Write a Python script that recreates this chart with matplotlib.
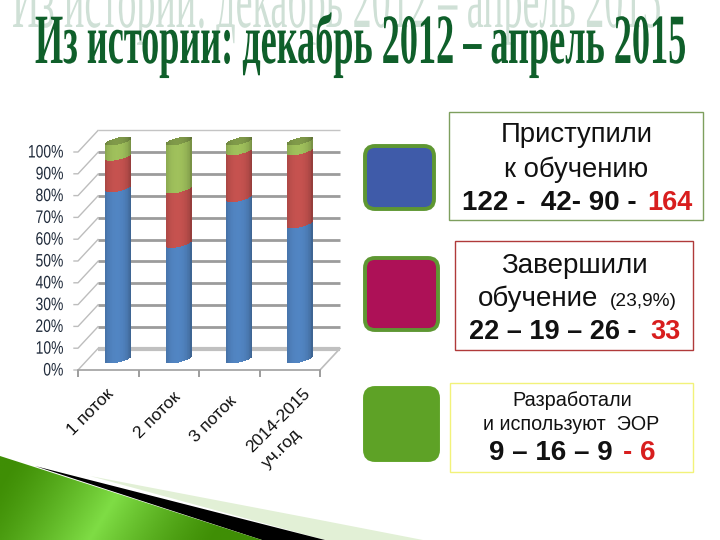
import numpy as np
import matplotlib
matplotlib.use('Agg')
import matplotlib.pyplot as plt
from matplotlib.patches import FancyBboxPatch, Rectangle, Polygon
from matplotlib.patheffects import AbstractPathEffect
from matplotlib.transforms import Affine2D
from matplotlib.colors import to_rgb

categories = ['1 поток', '2 поток', '3 поток', '2014-2015\nуч.год']
started = [78.5, 53, 74, 62]
finished = [14.5, 25, 21.5, 33.5]
materials = [7, 22, 4.5, 4.5]
yticks = list(range(0, 101, 10))
series_colors = ['#4F81BD', '#C0504D', '#9BBB59']

W, H = 720, 540
plt.rcParams['font.family'] = ['Liberation Sans', 'DejaVu Sans']
fig = plt.figure(figsize=(W / 100, H / 100), dpi=100, facecolor='white')


class Stretch(AbstractPathEffect):
    """Stretches a text vertically around its baseline."""
    def __init__(self, sy):
        super().__init__()
        self.sy = sy

    def draw_path(self, renderer, gc, tpath, affine, rgbFace=None):
        m = affine.get_matrix()
        y0 = m[1, 2]
        a = affine + Affine2D().translate(0, -y0).scale(1, self.sy).translate(0, y0)
        renderer.draw_path(gc, tpath, a, rgbFace)


def axes_px(x0, y0, x1, y1, **kw):
    return fig.add_axes([x0 / W, 1 - y1 / H, (x1 - x0) / W, (y1 - y0) / H], **kw)


# full-figure overlay in pixel coordinates
bg = axes_px(0, 0, W, H, zorder=0)
bg.set_xlim(0, W)
bg.set_ylim(H, 0)
bg.axis('off')

# bottom decoration
pale = Polygon([(90, 476), (320, 520), (423, 540), (325, 540)], fc='#E2F0D6', ec='none')
bg.add_patch(pale)
black = Polygon([(35, 466), (325, 540), (262, 540)], fc='black', ec='none')
bg.add_patch(black)
xx, yy = np.meshgrid(np.linspace(0, 270, 150), np.linspace(456, 540, 40))
grad = np.clip(1 - np.abs((xx + 0.6 * (yy - 456)) - 140) / 125, 0, 1) ** 1.3
c0, c1 = np.array(to_rgb('#3F8E05')), np.array(to_rgb('#7FDD45'))
im = bg.imshow(c0 + grad[..., None] * (c1 - c0), extent=(0, 270, 540, 456), aspect='auto', zorder=2)
green = Polygon([(0, 456), (262, 540), (0, 540)], transform=bg.transData, fc='none', ec='none')
bg.add_patch(green)
im.set_clip_path(green)
bg.set_xlim(0, W)
bg.set_ylim(H, 0)

# titles
bg.text(12, 27, 'Из истории: декабрь 2012 – апрель 2015', fontfamily='Liberation Serif', fontsize=27.4,
        color='#CFE0D6', ha='left', va='baseline', path_effects=[Stretch(2.2)], zorder=3)
bg.text(35, 63, 'Из истории: декабрь 2012 – апрель 2015', fontfamily='Liberation Serif', fontsize=26.1,
        fontweight='bold', color='#0F5F2A', ha='left', va='baseline', path_effects=[Stretch(1.95)], zorder=4)

# chart geometry
front = (78, 152, 320, 370)
dx_b, dy_b = 20, -21.5
dx_m, dy_m = 10, -11

# back wall
back = axes_px(front[0] + dx_b, front[1] + dy_b, front[2] + dx_b, front[3] + dy_b, zorder=1)
back.patch.set_alpha(0)
back.set_xlim(-0.5, 3.5)
back.set_ylim(0, 100)
back.axis('off')
for v in yticks:
    if v == 100:
        lw, col = 1.0, '#C4C4C4'
    elif v == 0:
        lw, col = 3.0, '#C0C0C0'
    else:
        lw, col = 2.0, '#9C9C9C'
    back.plot([-0.5, 3.5], [v, v], color=col, lw=lw, clip_on=False, solid_capstyle='butt')

# front axis
ax = axes_px(*front, zorder=2)
ax.patch.set_alpha(0)
ax.set_xlim(-0.5, 3.5)
ax.set_ylim(0, 100)
for s in ['top', 'right', 'left']:
    ax.spines[s].set_visible(False)
ax.spines['bottom'].set_color('#A0A0A0')
ax.spines['bottom'].set_linewidth(1.2)
ax.set_yticks(yticks)
ax.set_yticklabels([f'{v}%' for v in yticks], fontsize=10, color='#1F2A3A')
for t in ax.get_yticklabels():
    t.set_path_effects([Stretch(1.3)])
ax.tick_params(axis='y', length=0, pad=10.5)
ax.set_xticks(np.arange(-0.5, 4))
ax.set_xticklabels([])
ax.tick_params(axis='x', length=5, color='#8C8C8C', width=1.2)
# depth lines
for v in yticks:
    y = front[3] - (front[3] - front[1]) * v / 100
    bg.plot([front[0] - 4, front[0], front[0] + dx_b], [y, y, y + dy_b], color='#BDBDBD', lw=1.0, zorder=1)
bg.plot([front[2], front[2] + dx_b], [front[3], front[3] + dy_b], color='#BDBDBD', lw=1.2, zorder=1)

# category labels
lab_pos = [(91, 412), (157, 415), (213, 419), (286.5, 428)]
for (lx, ly), c in zip(lab_pos, categories):
    bg.text(lx, ly, c, rotation=45, rotation_mode='anchor', ha='center', va='center',
            fontsize=12.5, color='#111111', linespacing=1.6, multialignment='left', zorder=6)

# cylinders
mid = axes_px(front[0] + dx_m, front[1] + dy_m, front[2] + dx_m, front[3] + dy_m, zorder=3)
mid.patch.set_alpha(0)
mid.set_xlim(-0.5, 3.5)
mid.set_ylim(0, 100)
mid.axis('off')
bar_w = 0.43
n = 36
t = (np.arange(n) + 0.5) / n * 2 - 1
strip = bar_w / n
dip = 1.6
slope = 1.3
shade = 0.78 + 0.25 * np.clip(1 - ((t + 0.1) / 1.0) ** 2, 0, 1) ** 0.6


def strip_colors(base, k=1.0):
    rgb = np.array(to_rgb(base))
    s = shade[:, None] * k
    return np.clip(rgb * s, 0, 1)


lower = -dip * np.sqrt(1 - t ** 2) + slope * t
upper = dip * np.sqrt(1 - t ** 2) + slope * t
series = [started, finished, materials]
for i in range(len(categories)):
    bottom = 0.0
    for vals, col in zip(series, series_colors):
        h = vals[i]
        ys0 = bottom + lower
        ys1 = bottom + h + lower
        cols = strip_colors(col)
        mid.bar(i + t * bar_w / 2, ys1 - ys0, bottom=ys0, width=strip * 1.15, color=cols, lw=0,
                zorder=3, clip_on=False)
        bottom += h
    # top cap
    mid.bar(i + t * bar_w / 2, upper - lower, bottom=bottom + lower, width=strip * 1.15,
            color=strip_colors(series_colors[2], 0.8), lw=0, zorder=4, clip_on=False)

# legend squares
swatches = [(363, 144, 436, 211, '#3F5BA9', '#5E9732'),
            (363, 256, 440, 332, '#AD1157', '#5E9732'),
            (363, 386, 440, 462, '#5EA226', '#5EA226')]
for x0, y0, x1, y1, fc, ec in swatches:
    bg.add_patch(FancyBboxPatch((x0 + 12, y0 + 12), x1 - x0 - 24, y1 - y0 - 24,
                                boxstyle='round,pad=10,rounding_size=10',
                                fc=fc, ec=ec, lw=2.8, mutation_aspect=1))

# text boxes
boxes = [(449, 112, 703, 220, '#7E9F5E'), (455, 241, 693, 350, '#B03A3A'), (450, 383, 693, 472, '#F2F27A')]
for x0, y0, x1, y1, ec in boxes:
    bg.add_patch(Rectangle((x0, y0), x1 - x0, y1 - y0, fc='white', ec=ec, lw=1.0))

red = '#D81E1E'
ink = '#111111'
bg.text(576.5, 135, 'Приступили', fontsize=19.8, ha='center', va='center', color=ink)
bg.text(576, 170, 'к обучению', fontsize=19.8, ha='center', va='center', color=ink)
bg.text(462, 203, '122 -  42- 90 -', fontsize=20, fontweight='bold', ha='left', va='center', color=ink)
bg.text(647, 203, '164', fontsize=19.5, fontweight='bold', ha='left', va='center', color=red)

bg.text(574.5, 266, 'Завершили', fontsize=20, ha='center', va='center', color=ink)
bg.text(478, 299, 'обучение', fontsize=20, ha='left', va='center', color=ink)
bg.text(610, 302, '(23,9%)', fontsize=13.8, ha='left', va='center', color=ink)
bg.text(469, 332, '22 – 19 – 26 -', fontsize=19.5, fontweight='bold', ha='left', va='center', color=ink)
bg.text(650, 332, '33', fontsize=19.5, fontweight='bold', ha='left', va='center', color=red)

bg.text(572, 401, 'Разработали', fontsize=14.3, ha='center', va='center', color=ink)
bg.text(571.5, 425, 'и используют  ЭОР', fontsize=14.2, ha='center', va='center', color=ink)
bg.text(489, 453, '9 – 16 – 9', fontsize=20, fontweight='bold', ha='left', va='center', color=ink)
bg.text(623, 453, '- 6', fontsize=20, fontweight='bold', ha='left', va='center', color=red)

fig.savefig('out.png', dpi=100)
